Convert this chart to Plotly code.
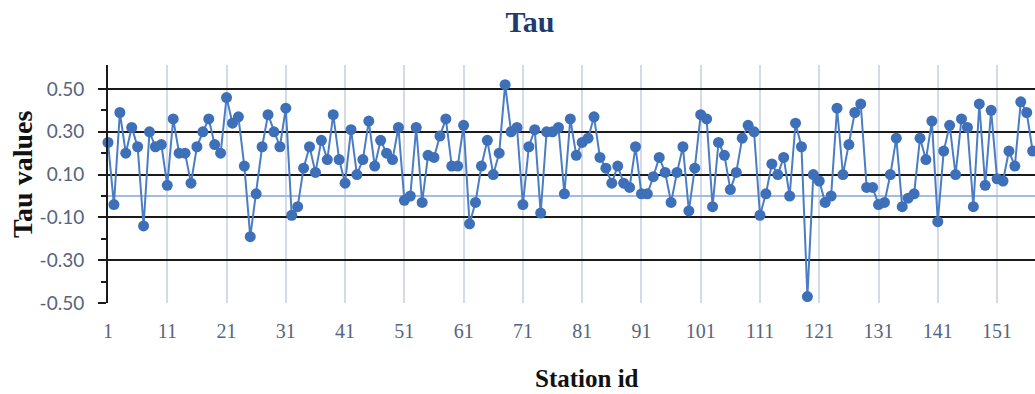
import plotly.graph_objects as go

# Mann-Kendall tau for each station
station_ids = list(range(1, 158))
tau_values = [
    0.25, -0.04, 0.39, 0.20, 0.32, 0.23, -0.14, 0.30, 0.23, 0.24,
    0.05, 0.36, 0.20, 0.20, 0.06, 0.23, 0.30, 0.36, 0.24, 0.20,
    0.46, 0.34, 0.37, 0.14, -0.19, 0.01, 0.23, 0.38, 0.30, 0.23,
    0.41, -0.09, -0.05, 0.13, 0.23, 0.11, 0.26, 0.17, 0.38, 0.17,
    0.06, 0.31, 0.10, 0.17, 0.35, 0.14, 0.26, 0.20, 0.17, 0.32,
    -0.02, 0.00, 0.32, -0.03, 0.19, 0.18, 0.28, 0.36, 0.14, 0.14,
    0.33, -0.13, -0.03, 0.14, 0.26, 0.10, 0.20, 0.52, 0.30, 0.32,
    -0.04, 0.23, 0.31, -0.08, 0.30, 0.30, 0.32, 0.01, 0.36, 0.19,
    0.25, 0.27, 0.37, 0.18, 0.13, 0.06, 0.14, 0.06, 0.04, 0.23,
    0.01, 0.01, 0.09, 0.18, 0.11, -0.03, 0.11, 0.23, -0.07, 0.13,
    0.38, 0.36, -0.05, 0.25, 0.19, 0.03, 0.11, 0.27, 0.33, 0.30,
    -0.09, 0.01, 0.15, 0.10, 0.18, 0.00, 0.34, 0.23, -0.47, 0.10,
    0.07, -0.03, 0.00, 0.41, 0.10, 0.24, 0.39, 0.43, 0.04, 0.04,
    -0.04, -0.03, 0.10, 0.27, -0.05, -0.01, 0.01, 0.27, 0.17, 0.35,
    -0.12, 0.21, 0.33, 0.10, 0.36, 0.32, -0.05, 0.43, 0.05, 0.40,
    0.08, 0.07, 0.21, 0.14, 0.44, 0.39, 0.21,
]

x_tick_vals = list(range(1, 158, 10))
x_tick_text = [str(v) for v in x_tick_vals]
y_tick_vals = [-0.5, -0.3, -0.1, 0.1, 0.3, 0.5]
y_tick_text = ["-0.50", "-0.30", "-0.10", "0.10", "0.30", "0.50"]

W, H = 1035, 394
L, R, T, B = 108, 0, 65, 91
plot_w = W - L - R
plot_h = H - T - B

fig = go.Figure()
fig.add_trace(go.Scatter(
    x=station_ids,
    y=tau_values,
    mode="lines+markers",
    line=dict(color="#4A7DC3", width=2),
    marker=dict(size=11, color="#3D70B8"),
    cliponaxis=False,
    showlegend=False,
))

tick_font_color = "#56657D"

fig.update_layout(
    width=W,
    height=H,
    margin=dict(l=L, r=R, t=T, b=B, pad=0),
    paper_bgcolor="white",
    plot_bgcolor="white",
    title=dict(
        text="<b>Tau</b>",
        font=dict(family="Liberation Serif", size=30, color="#1F3A6E"),
        x=530 / W, xref="container", xanchor="center",
        y=1 - 21 / H, yref="container", yanchor="middle",
    ),
    xaxis=dict(
        range=[1, 157.4],
        tickmode="array",
        tickvals=x_tick_vals,
        ticktext=x_tick_text,
        showgrid=True,
        gridcolor="#D3DBE8",
        gridwidth=1.5,
        zeroline=False,
        showline=False,
        ticks="",
        ticklabelstandoff=14,
        tickfont=dict(family="Liberation Serif", size=20, color=tick_font_color),
    ),
    yaxis=dict(
        range=[-0.5, 0.612],
        tickmode="array",
        tickvals=y_tick_vals,
        ticktext=y_tick_text,
        showgrid=True,
        gridcolor="#1A1A1A",
        gridwidth=2,
        zeroline=True,
        zerolinecolor="#A3BCE0",
        zerolinewidth=1.5,
        showline=True,
        linecolor="#1A1A1A",
        linewidth=2,
        ticks="outside",
        ticklen=8,
        tickwidth=2,
        tickcolor="#1A1A1A",
        minor=dict(
            tickvals=[-0.4, -0.2, 0.0, 0.2, 0.4],
            ticks="outside",
            ticklen=5,
            tickwidth=2,
            tickcolor="#1A1A1A",
            showgrid=False,
        ),
        ticklabelstandoff=10,
        tickfont=dict(family="Lato", size=19, color=tick_font_color),
    ),
    annotations=[
        dict(
            text="<b>Tau values</b>",
            xref="paper", yref="paper",
            x=(22 - L) / plot_w, y=(H - B - 175) / plot_h,
            xanchor="center", yanchor="middle",
            textangle=-90, showarrow=False,
            font=dict(family="Liberation Serif", size=28, color="#111111"),
        ),
        dict(
            text="<b>Station id</b>",
            xref="paper", yref="paper",
            x=(587 - L) / plot_w, y=(H - B - 378) / plot_h,
            xanchor="center", yanchor="middle",
            showarrow=False,
            font=dict(family="Liberation Serif", size=25, color="#111111"),
        ),
    ],
)

fig.write_html("out.html")
